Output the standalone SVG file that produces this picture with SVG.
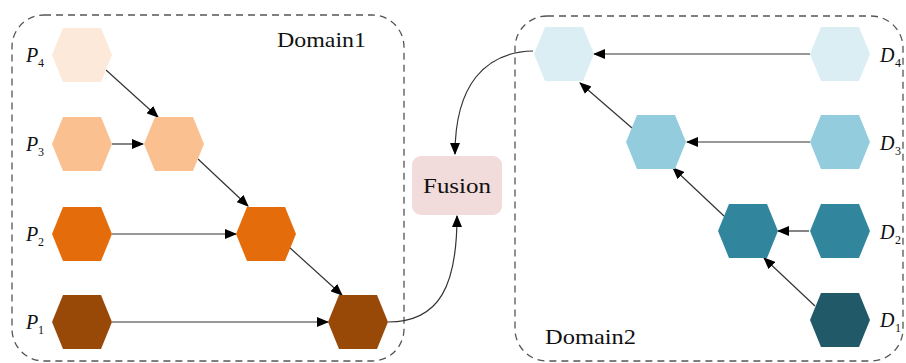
<svg xmlns="http://www.w3.org/2000/svg" width="906" height="363" viewBox="0 0 906 363">
<style>
.box{fill:none;stroke:#555;stroke-width:1.3;stroke-dasharray:7 5}
.lbl{font-family:'Liberation Serif','DejaVu Serif',serif;font-size:22px;fill:#111}
.var{font-family:'Liberation Serif','DejaVu Serif',serif;font-style:italic;font-size:20px;fill:#111}
.sub{font-family:'Liberation Serif','DejaVu Serif',serif;font-size:12px;fill:#111}
.edge{fill:none;stroke:#333;stroke-width:1.2;marker-end:url(#arr)}
</style>
<defs>
<marker id="arr" markerUnits="userSpaceOnUse" markerWidth="12" markerHeight="10" refX="11" refY="5" orient="auto">
<path d="M0,0 L12,5 L0,10 Z" fill="#000"/>
</marker>
<polygon id="hex" points="-30,0 -19,-27 19,-27 30,0 19,27 -19,27"/>
</defs>
<rect class="box" x="12" y="15" width="392" height="346" rx="32"/>
<rect class="box" x="515" y="16" width="388" height="345" rx="32"/>
<text class="lbl" x="277" y="47" textLength="89" lengthAdjust="spacingAndGlyphs">Domain1</text>
<text class="lbl" x="545" y="344" textLength="91" lengthAdjust="spacingAndGlyphs">Domain2</text>
<g id="connectors">
<path class="edge" d="M106,70 L158,117"/>
<path class="edge" d="M112,144 L143,144"/>
<path class="edge" d="M198,159 L248,206"/>
<path class="edge" d="M112,234 L236,234"/>
<path class="edge" d="M289,247 L342,295"/>
<path class="edge" d="M112,322 L328,322"/>
<path class="edge" d="M388,322 C440,322 457,285 457,216"/>
<path class="edge" d="M533,51 C485,52 455,85 455,154"/>
<path class="edge" d="M810,54 L594,54"/>
<path class="edge" d="M632,128 L580,83"/>
<path class="edge" d="M810,142 L687,142"/>
<path class="edge" d="M724,216 L673,168"/>
<path class="edge" d="M809,231 L778,231"/>
<path class="edge" d="M815,306 L764,258"/>
</g>
<g id="P4"><use href="#hex" x="82" y="55" fill="#fde9d9"/><text class="var" x="26" y="62">P</text><text class="sub" x="38" y="67">4</text></g>
<g id="P3"><use href="#hex" x="82" y="144" fill="#fac090"/><text class="var" x="26" y="151">P</text><text class="sub" x="38" y="156">3</text></g>
<g id="P2"><use href="#hex" x="82" y="234" fill="#e46c0a"/><text class="var" x="26" y="241">P</text><text class="sub" x="38" y="246">2</text></g>
<g id="P1"><use href="#hex" x="82" y="322" fill="#984807"/><text class="var" x="26" y="329">P</text><text class="sub" x="38" y="334">1</text></g>
<g id="A3"><use href="#hex" x="174" y="144" fill="#fac090"/></g>
<g id="A2"><use href="#hex" x="266" y="234" fill="#e46c0a"/></g>
<g id="A1"><use href="#hex" x="358" y="322" fill="#984807"/></g>
<g id="Fusion"><rect x="412" y="156" width="90" height="59" rx="9" fill="#f2dcdb"/><text class="lbl" x="423" y="193" textLength="68" lengthAdjust="spacingAndGlyphs">Fusion</text></g>
<g id="B4"><use href="#hex" x="564" y="54" fill="#dbeef4"/></g>
<g id="B3"><use href="#hex" x="656" y="142" fill="#93cddd"/></g>
<g id="B2"><use href="#hex" x="748" y="231" fill="#31859c"/></g>
<g id="D4"><use href="#hex" x="840" y="54" fill="#dbeef4"/><text class="var" x="880" y="62">D</text><text class="sub" x="895" y="67">4</text></g>
<g id="D3"><use href="#hex" x="840" y="142" fill="#93cddd"/><text class="var" x="880" y="150">D</text><text class="sub" x="895" y="155">3</text></g>
<g id="D2"><use href="#hex" x="840" y="231" fill="#31859c"/><text class="var" x="880" y="239">D</text><text class="sub" x="895" y="244">2</text></g>
<g id="D1"><use href="#hex" x="840" y="320" fill="#215968"/><text class="var" x="880" y="327">D</text><text class="sub" x="895" y="332">1</text></g>
</svg>
